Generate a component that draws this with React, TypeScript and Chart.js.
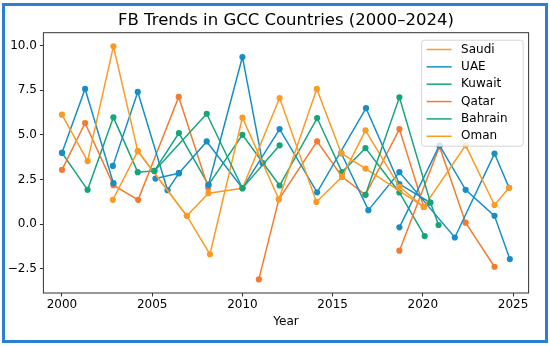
import React, { useEffect, useRef } from 'react';
import { Chart, registerables } from 'chart.js';

Chart.register(...registerables);

const countries = ['Saudi', 'UAE', 'Kuwait', 'Qatar', 'Bahrain', 'Oman'];
const seriesColors = ['#fb9b24', '#178fc6', '#16a57a', '#f57a30', '#16a57a', '#fb9b24'];
// lower value = drawn on top
const drawOrder = [2, 3, 5, 4, 0, 1];

// null marks a break in the line
const saudiYears = [2000, 2001.42, 2002.85, 2004.2, 2006.92, 2008.2, 2010, 2012.02, 2014.12, 2015.48, 2016.82, 2020.05];
const saudiValues = [6.14, 3.54, 9.97, 4.1, 0.47, -1.68, 5.97, 1.4, 7.58, 3.98, 3.12, 0.97];

const uaeYears = [2000, 2001.28, 2002.85, null, 2002.82, 2004.2, 2005.85, 2006.48, 2008.02, 2010, 2012.06, 2014.14, 2016.85, 2018.7, 2020.4, null, 2005.18, 2006.48, null, 2008.12, 2010, 2011.12, null, 2015.48, 2016.98, 2018.7, 2021.77, 2023.97, 2024.78, null, 2018.7, 2020.92, 2022.37, 2023.97, 2024.82];
const uaeValues = [4.0, 7.58, 2.3, null, 3.27, 7.41, 1.91, 2.86, 4.64, 2.02, 5.33, 1.79, 6.5, 2.25, 1.22, null, 2.56, 2.86, null, 2.21, 9.37, 3.42, null, 3.98, 0.79, 2.92, -0.74, 3.96, 2.04, null, -0.17, 4.42, 1.93, 0.47, -1.95];

const kuwaitYears = [2000, 2001.42, 2002.85, 2004.2, 2005.12, 2006.48, 2008.12, 2010, 2012.06, 2014.14, 2015.52, 2016.82, 2018.7, 2020.1];
const kuwaitValues = [4.0, 1.93, 5.99, 2.92, 2.99, 5.11, 2.21, 5.01, 2.17, 5.95, 2.92, 4.27, 1.78, -0.66];

const qatarYears = [2000, 2001.28, 2002.85, 2004.22, 2006.47, 2008.1, null, 2010.91, 2012.02, 2014.14, 2015.52, 2016.82, 2018.7, 2020.05, null, 2018.7, 2020.92, 2022.37, 2023.97];
const qatarValues = [3.05, 5.67, 2.19, 1.37, 7.13, 2.05, null, -3.09, 1.4, 4.64, 2.66, 1.65, 5.33, 0.97, null, -1.48, 4.36, 0.09, -2.38];

const bahrainYears = [2005.12, 2008.02, 2010, 2012.06, null, 2016.82, 2018.7, 2020.42, 2020.87];
const bahrainValues = [2.99, 6.19, 2.02, 4.42, null, 1.65, 7.11, 1.22, -0.04];

const omanYears = [2002.82, 2004.2, 2006.92, 2008.12, 2010, 2012.06, 2014.1, 2015.52, 2016.82, 2018.7, 2020.05, 2022.37, 2023.97, 2024.78];
const omanValues = [1.37, 4.1, 0.47, 1.74, 2.02, 7.07, 1.25, 2.66, 5.26, 2.1, 0.97, 4.42, 1.08, 2.04];

const xTicks = [2000, 2005, 2010, 2015, 2020, 2025];
const yTicks = [-2.5, 0, 2.5, 5, 7.5, 10];

const allYears = [saudiYears, uaeYears, kuwaitYears, qatarYears, bahrainYears, omanYears];
const allValues = [saudiValues, uaeValues, kuwaitValues, qatarValues, bahrainValues, omanValues];

const FONT = 'DejaVu Sans';

function toPoints(years: (number | null)[], values: (number | null)[]) {
  let prev = years[0] as number;
  return years.map((x, i) => {
    const px = x == null ? prev : x;
    prev = px;
    return { x: px, y: values[i] };
  });
}

const framePlugin = {
  id: 'frameAndLegend',
  afterDatasetsDraw(chart: any) {
    const { ctx, chartArea } = chart;
    ctx.save();
    // axes frame
    ctx.strokeStyle = '#333333';
    ctx.lineWidth = 1;
    ctx.strokeRect(chartArea.left, chartArea.top, chartArea.right - chartArea.left, chartArea.bottom - chartArea.top);

    // legend
    const w = 101.5;
    const h = 106;
    const right = chartArea.right - 5.5;
    const left = right - w;
    const top = chartArea.top + 7.5;
    const r = 2.5;
    ctx.beginPath();
    ctx.moveTo(left + r, top);
    ctx.lineTo(left + w - r, top);
    ctx.arcTo(left + w, top, left + w, top + r, r);
    ctx.lineTo(left + w, top + h - r);
    ctx.arcTo(left + w, top + h, left + w - r, top + h, r);
    ctx.lineTo(left + r, top + h);
    ctx.arcTo(left, top + h, left, top + h - r, r);
    ctx.lineTo(left, top + r);
    ctx.arcTo(left, top, left + r, top, r);
    ctx.closePath();
    ctx.fillStyle = 'rgba(255,255,255,0.8)';
    ctx.fill();
    ctx.strokeStyle = 'rgba(204,204,204,0.8)';
    ctx.lineWidth = 1;
    ctx.stroke();

    ctx.font = `12px "${FONT}"`;
    ctx.textBaseline = 'middle';
    ctx.textAlign = 'left';
    chart.data.datasets.forEach((ds: any, i: number) => {
      const y = top + 9.3 + i * 17.35;
      ctx.strokeStyle = ds.borderColor;
      ctx.lineWidth = 1.5;
      ctx.beginPath();
      ctx.moveTo(left + 5, y);
      ctx.lineTo(left + 30, y);
      ctx.stroke();
      ctx.fillStyle = '#000000';
      ctx.fillText(ds.label, left + 39.5, y);
    });
    ctx.restore();
  },
};

export default function App() {
  const ref = useRef<HTMLCanvasElement | null>(null);

  useEffect(() => {
    if (!ref.current) return;
    const datasets = countries.map((name, i) => ({
      label: name,
      data: toPoints(allYears[i], allValues[i]),
      borderColor: seriesColors[i],
      backgroundColor: seriesColors[i],
      pointBackgroundColor: seriesColors[i],
      pointBorderColor: seriesColors[i],
      pointBorderWidth: 0,
      pointRadius: 3.1,
      borderWidth: 1.5,
      spanGaps: false,
      tension: 0,
      order: drawOrder[i],
    }));

    const chart = new Chart(ref.current, {
      type: 'line',
      data: { datasets },
      plugins: [framePlugin],
      options: {
        animation: false,
        responsive: false,
        devicePixelRatio: 1,
        events: [],
        layout: { padding: { left: 0, right: 21.4, top: 0, bottom: 0 } },
        plugins: {
          legend: { display: false },
          tooltip: { enabled: false },
          title: {
            display: true,
            text: 'FB Trends in GCC Countries (2000–2024)',
            fullSize: false,
            color: '#000000',
            font: { family: FONT, size: 16.5, weight: 'normal' },
            padding: { top: 10.6, bottom: 2.3 },
          },
        },
        scales: {
          x: {
            type: 'linear',
            min: 1998.97,
            max: 2025.86,
            afterBuildTicks: (axis: any) => {
              axis.ticks = xTicks.map((value) => ({ value }));
            },
            afterFit: (axis: any) => {
              axis.height = 53;
            },
            grid: {
              display: true,
              drawOnChartArea: false,
              drawTicks: true,
              tickLength: 3.5,
              color: '#333333',
              lineWidth: 1,
            },
            border: { display: false },
            ticks: {
              padding: 1.5,
              color: '#000000',
              maxRotation: 0,
              autoSkip: false,
              font: { family: FONT, size: 12 },
              callback: (v: any) => String(v),
            },
            title: {
              display: true,
              text: 'Year',
              color: '#000000',
              font: { family: FONT, size: 12 },
              padding: { top: 0, bottom: 17.3 },
            },
          },
          y: {
            type: 'linear',
            min: -3.85,
            max: 10.73,
            afterBuildTicks: (axis: any) => {
              axis.ticks = yTicks.map((value) => ({ value }));
            },
            afterFit: (axis: any) => {
              axis.width = 43.4;
            },
            grid: {
              display: true,
              drawOnChartArea: false,
              drawTicks: true,
              tickLength: 3.5,
              color: '#333333',
              lineWidth: 1,
            },
            border: { display: false },
            ticks: {
              padding: 3,
              color: '#000000',
              autoSkip: false,
              font: { family: FONT, size: 12 },
              callback: (v: any) => (v < 0 ? '\u2212' + Math.abs(v).toFixed(1) : Number(v).toFixed(1)),
            },
          },
        },
      },
    });
    return () => chart.destroy();
  }, []);

  return (
    <div style={{ position: 'fixed', left: 0, top: 0, width: 550, height: 346, background: '#ffffff' }}>
      <canvas ref={ref} width={550} height={346} style={{ display: 'block', width: 550, height: 346 }} />
      <div
        style={{
          position: 'absolute',
          left: 2,
          top: 3,
          width: 546,
          height: 340,
          boxSizing: 'border-box',
          border: '3px solid #2b80d6',
          pointerEvents: 'none',
        }}
      />
    </div>
  );
}
